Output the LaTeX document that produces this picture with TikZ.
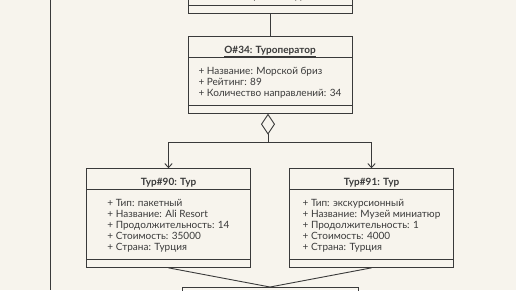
\documentclass[tikz,border=0pt]{standalone}
\usepackage{fontspec}
\setmainfont{Lato}
\usepackage{tikz}
\usetikzlibrary{positioning,arrows.meta,shapes.multipart}

\definecolor{paper}{HTML}{F7F4ED}
\definecolor{ink}{HTML}{3A3A3A}

\newcommand{\hdr}[1]{\rule[-3.5pt]{0pt}{20pt}\underline{\bfseries #1}}
\newcommand{\attrs}[1]{\begin{tabular}{@{}l@{}}\rule{0pt}{16.5pt}#1\rule[-8pt]{0pt}{0pt}\end{tabular}}

\begin{document}
\begin{tikzpicture}[
  x=1pt, y=1pt,
  font=\fontsize{10}{11}\selectfont,
  obj/.style={draw=ink, line width=1pt, text=ink, rectangle split, rectangle split parts=3,
    rectangle split empty part height=7pt, inner xsep=0pt, inner ysep=0pt, minimum width=164pt},
  box/.style={draw=ink, line width=1pt, minimum width=176pt, minimum height=30pt},
  line/.style={draw=ink, line width=0.9pt},
  arr/.style={line, -{Straight Barb[length=4pt, width=7.5pt]}},
  agg/.style={line, {Diamond[open, length=21pt, width=14pt]}-}
]
\useasboundingbox[fill=paper] (0,0) rectangle (516,-290);
\clip (0,0) rectangle (516,-290);

\node[obj, anchor=north] (op) at (270,-36) {\hdr{О\#34: Туроператор}
  \nodepart{two}\attrs{+ Название: Морской бриз\\+ Рейтинг: 89\\+ Количество направлений: 34}};
\node[obj, rectangle split parts=2, above=21.7pt of op] (ins) {\rule[-6pt]{0pt}{30pt}+ Страховка: да};
\node[obj, below=54.5pt of op, xshift=-101.5pt] (t90) {\hdr{Тур\#90: Тур}
  \nodepart{two}\attrs{+ Тип: пакетный\\+ Название: Ali Resort\\+ Продолжительность: 14\\+ Стоимость: 35000\\+ Страна: Турция}};
\node[obj, below=54.5pt of op, xshift=101.5pt] (t91) {\hdr{Тур\#91: Тур}
  \nodepart{two}\attrs{+ Тип: экскурсионный\\+ Название: Музей миниатюр\\+ Продолжительность: 1\\+ Стоимость: 4000\\+ Страна: Турция}};
\node[box, anchor=north] (bk) at (270,-287) {};

\coordinate (fork) at (268,-142.3);
\coordinate (lt) at (50.7,0);
\coordinate (lb) at (50.7,-290);

\draw[line] (ins) -- (op);
\draw[agg] ([xshift=-2pt]op.south) -- (fork);
\draw[arr] (fork) -| (t90.north);
\draw[arr] (fork) -| (t91.north);
\draw[line] (t90.south) -- (bk.north);
\draw[line] (t91.south) -- (bk.north);
\draw[line] (lt) -- (lb);
\end{tikzpicture}
\end{document}
